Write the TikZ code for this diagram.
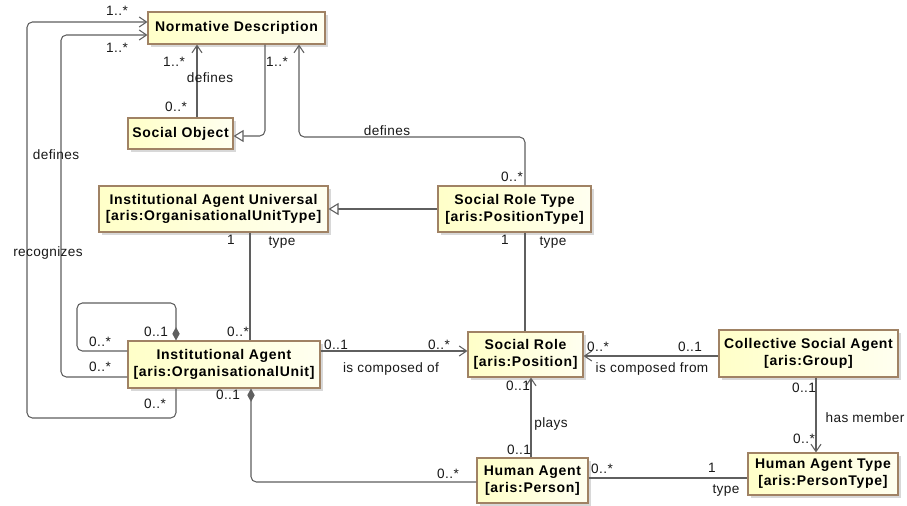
\documentclass[tikz,border=0pt]{standalone}
\usepackage{fontspec}
\setmainfont{Liberation Sans}
\newfontfamily\lblfont[LetterSpace=3]{Liberation Sans}
\newfontfamily\boxfont[LetterSpace=5]{Liberation Sans}
\usetikzlibrary{arrows.meta,shadows,calc}
\newcommand{\pxu}{0.75pt}
\definecolor{boxborder}{RGB}{160,130,100}
\definecolor{boxlight}{RGB}{255,255,200}
\definecolor{boxwhite}{RGB}{255,255,240}
\definecolor{linecol}{RGB}{95,95,95}
\definecolor{txtcol}{RGB}{25,25,25}
\tikzset{
 cls/.style={draw=boxborder, line width=0.8pt, left color=boxlight, right color=boxwhite,
   drop shadow={shadow xshift=2.2pt, shadow yshift=-2.2pt, fill=black!30},
   align=center, inner sep=0pt, text=black,
   font=\boxfont\bfseries\fontsize{10.5pt}{12.6pt}\selectfont},
 conn/.style={draw=linecol, line width=0.8pt, rounded corners=4pt},
 assoc/.style={conn, -{Straight Barb[length=5.5pt,width=7.5pt,line width=0.8pt]}},
 gen/.style={conn, -{Triangle[open,length=7.5pt,width=9pt,fill=white,line width=0.8pt]}},
 compo/.style={conn, -{Diamond[length=10pt,width=5.5pt]}},
 lbl/.style={font=\lblfont\fontsize{10.2pt}{11pt}\selectfont, text=txtcol, inner sep=0pt},
}
\begin{document}
\begin{tikzpicture}[x=0.75pt,y=-0.75pt]
\useasboundingbox (0,0) rectangle (907,506);
\fill[white] (0,0) rectangle (907,506);
% classes
\node[cls, minimum width=177*\pxu, minimum height=32*\pxu] (ND) at (236.5,28) {Normative Description};
\node[cls, minimum width=105*\pxu, minimum height=31*\pxu] (SO) at (180.5,133.5) {Social Object};
\node[cls, minimum width=229*\pxu, minimum height=46*\pxu] (IAU) at (213.5,209) {Institutional Agent Universal\\{}[aris:OrganisationalUnitType]};
\node[cls, minimum width=153*\pxu, minimum height=46*\pxu] (SRT) at (514.5,209) {Social Role Type\\{}[aris:PositionType]};
\node[cls, minimum width=192*\pxu, minimum height=47*\pxu] (IA) at (224,364.5) {Institutional Agent\\{}[aris:OrganisationalUnit]};
\node[cls, minimum width=115*\pxu, minimum height=45*\pxu] (SR) at (525.5,354.5) {Social Role\\{}[aris:Position]};
\node[cls, minimum width=179*\pxu, minimum height=47*\pxu] (CSA) at (808.5,353.5) {Collective Social Agent\\{}[aris:Group]};
\node[cls, minimum width=150*\pxu, minimum height=42*\pxu] (HAT) at (823,474) {Human Agent Type\\{}[aris:PersonType]};
\node[cls, minimum width=111*\pxu, minimum height=45*\pxu] (HA) at (532.5,480.5) {Human Agent\\{}[aris:Person]};
% connectors
\draw[assoc] (197,0 |- SO.north) -- (197,0 |- ND.south);
\draw[gen] (265,0 |- ND.south) |- (SO.east |- 0,136);
\draw[assoc] (525,0 |- SRT.north) |- (299,137) -- (299,0 |- ND.south);
\draw[gen] (SRT.west) -- (IAU.east);
\draw[conn] (250,0 |- IAU.south) -- (250,0 |- IA.north);
\draw[conn] (525,0 |- SRT.south) -- (525,0 |- SR.north);
\draw[assoc] (IA.east |- 0,351) -- (SR.west |- 0,351);
\draw[assoc] (CSA.west |- 0,356) -- (SR.east |- 0,356);
\draw[assoc] (816,0 |- CSA.south) -- (816,0 |- HAT.north);
\draw[assoc] (531,0 |- HA.north) -- (531,0 |- SR.south);
\draw[conn] (HA.east |- 0,478) -- (HAT.west |- 0,478);
\draw[compo] (HA.west |- 0,482) -| (251,0 |- IA.south);
\draw[compo] (IA.west |- 0,351) -| (77,303) -| (176,0 |- IA.north);
\draw[assoc] (IA.west |- 0,377) -| (61,35) -- (ND.west |- 0,35);
\draw[assoc] (176,0 |- IA.south) |- (27,418) |- (ND.west |- 0,22);
% labels
\node[lbl] (l1) at (117,11) {1..*};
\node[lbl] (l2) at (117,48) {1..*};
\node[lbl] (l3) at (174,62) {1..*};
\node[lbl] (l4) at (210,78) {defines};
\node[lbl] (l5) at (176,107) {0..*};
\node[lbl] (l6) at (277,62) {1..*};
\node[lbl] (l7) at (387,131) {defines};
\node[lbl] (l8) at (512,177) {0..*};
\node[lbl] (l9) at (231,240) {1};
\node[lbl] (l10) at (282,243) {type};
\node[lbl] (l11) at (505,240) {1};
\node[lbl] (l12) at (553,243) {type};
\node[lbl] (l13) at (238,332) {0..*};
\node[lbl] (l14) at (156,332) {0..1};
\node[lbl] (l15) at (100,342) {0..*};
\node[lbl] (l16) at (100,367) {0..*};
\node[lbl] (l17) at (155,404) {0..*};
\node[lbl] (l18) at (228,395) {0..1};
\node[lbl] (l19) at (448,474) {0..*};
\node[lbl] (l20) at (336,345) {0..1};
\node[lbl] (l21) at (439,345) {0..*};
\node[lbl] (l22) at (391,369) {is composed of};
\node[lbl] (l23) at (598,347) {0..*};
\node[lbl] (l24) at (652,369) {is composed from};
\node[lbl] (l25) at (690,347) {0..1};
\node[lbl] (l26) at (804,388) {0..1};
\node[lbl] (l27) at (865,418) {has member};
\node[lbl] (l28) at (804,439) {0..*};
\node[lbl] (l29) at (602,469) {0..*};
\node[lbl] (l30) at (712,468) {1};
\node[lbl] (l31) at (726,491) {type};
\node[lbl] (l32) at (518,386) {0..1};
\node[lbl] (l33) at (551,424) {plays};
\node[lbl] (l34) at (519,450) {0..1};
\node[lbl] (l35) at (56,155) {defines};
\node[lbl] (l36) at (48,253) {recognizes};
\end{tikzpicture}
\end{document}
